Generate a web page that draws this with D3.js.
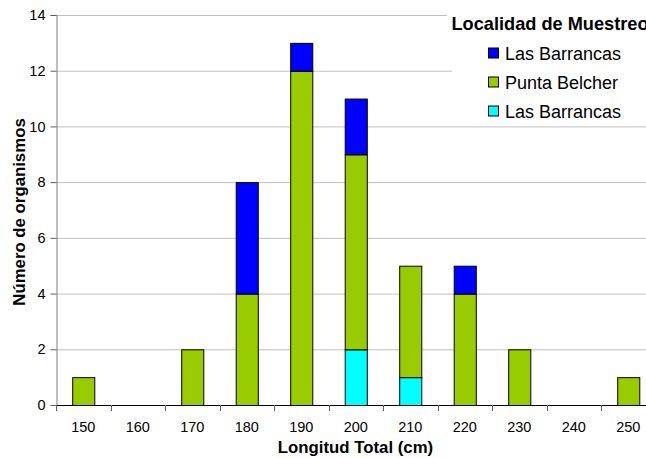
<!DOCTYPE html>
<html><head><meta charset="utf-8">
<script src="https://cdn.jsdelivr.net/npm/d3@7"></script>
<style>body{margin:0;background:#fff;overflow:hidden}svg{display:block}text{font-family:"Liberation Sans",Arial,sans-serif}</style>
</head><body>
<script>
const categories = ["150","160","170","180","190","200","210","220","230","240","250"];
const barrancasCyan = [0,0,0,0,0,2,1,0,0,0,0];
const puntaBelcher = [1,0,2,4,12,7,4,4,2,0,1];
const barrancasBlue = [0,0,0,4,1,2,0,1,0,0,0];
const yTicks = [0,2,4,6,8,10,12,14];
const seriesNames = ["Las Barrancas","Punta Belcher","Las Barrancas"];
const legendTitle = "Localidad de Muestreo";
const xTitle = "Longitud Total (cm)";
const yTitle = "Número de organismos";

const W=646,H=458;
const svg=d3.select("body").append("svg").attr("width",W).attr("height",H);
const L=56, R=655.5, T=15, B=405;
const x=d3.scaleBand().domain(categories).range([L,R]).paddingInner(0.595).paddingOuter(0.2975);
const y=d3.scaleLinear().domain([0,14]).range([B,T]);

// grid
svg.append("g").selectAll("line").data(yTicks.filter(d=>d>0)).join("line")
  .attr("x1",L).attr("x2",W).attr("y1",d=>y(d)+0.5).attr("y2",d=>y(d)+0.5)
  .attr("stroke","#c0c0c0").attr("stroke-width",1);

// stacked data
const table=categories.map((c,i)=>({cat:c,cyan:barrancasCyan[i],green:puntaBelcher[i],blue:barrancasBlue[i]}));
const keys=["cyan","green","blue"];
const colors={cyan:"#00FFFF",green:"#99CC00",blue:"#0000FF"};
const stack=d3.stack().keys(keys)(table);
const g=svg.append("g");
stack.forEach(s=>{
  g.selectAll(null).data(s.filter(d=>d[1]-d[0]>0)).join("rect")
   .attr("x",d=>x(d.data.cat)+0.5).attr("width",x.bandwidth())
   .attr("y",d=>y(d[1])+0.5).attr("height",d=>y(d[0])-y(d[1]))
   .attr("fill",colors[s.key]).attr("stroke","#000").attr("stroke-width",1);
});

// y axis
const ya=svg.append("g").attr("transform",`translate(${L+0.5},0)`)
  .call(d3.axisLeft(y).tickValues(yTicks).tickSize(6).tickPadding(5).tickFormat(d3.format("d")));
ya.select(".domain").attr("stroke","#808080");
ya.selectAll(".tick line").attr("stroke","#606060");
ya.selectAll("text").attr("font-size",14.5).attr("fill","#000").style("font-family",'"Liberation Sans",Arial,sans-serif');

// x axis
const xa=svg.append("g").attr("transform",`translate(0,${B+0.5})`)
  .call(d3.axisBottom(x).tickSize(0).tickPadding(16));
xa.select(".domain").attr("stroke","#000").attr("d",`M${L},0H${W}`);
xa.selectAll("text").attr("font-size",14.5).attr("fill","#000").style("font-family",'"Liberation Sans",Arial,sans-serif');
const bounds=categories.map(c=>x(c)-x.step()*x.paddingInner()/2);
svg.append("g").selectAll("line").data(bounds).join("line")
  .attr("x1",d=>Math.round(d)+0.5).attr("x2",d=>Math.round(d)+0.5)
  .attr("y1",B).attr("y2",B+6).attr("stroke","#606060");

// titles
svg.append("text").attr("x",355.5).attr("y",453).attr("text-anchor","middle")
  .attr("font-size",16.8).attr("font-weight","bold").text(xTitle);
svg.append("text").attr("transform","translate(25,212) rotate(-90)").attr("text-anchor","middle")
  .attr("font-size",16.8).attr("font-weight","bold").text(yTitle);

// legend
const lg=svg.append("g");
lg.append("rect").attr("x",447).attr("y",2).attr("width",W-447).attr("height",40).attr("fill","#fff");
lg.append("rect").attr("x",452).attr("y",40).attr("width",W-452).attr("height",82).attr("fill","#fff");
lg.append("text").attr("x",451.5).attr("y",29.5).attr("font-size",18.2).attr("font-weight","bold").text(legendTitle);
const legendKeys=["blue","green","cyan"];
const legendLabels=[seriesNames[2],seriesNames[1],seriesNames[0]];
legendKeys.forEach((k,i)=>{
  const cy=53.5+i*29;
  lg.append("rect").attr("x",488.5).attr("y",cy-5.5).attr("width",10).attr("height",10)
    .attr("fill",colors[k]).attr("stroke","#000").attr("stroke-width",1);
  lg.append("text").attr("x",505).attr("y",cy+6).attr("font-size",18).text(legendLabels[i]);
});
</script>
</body></html>
